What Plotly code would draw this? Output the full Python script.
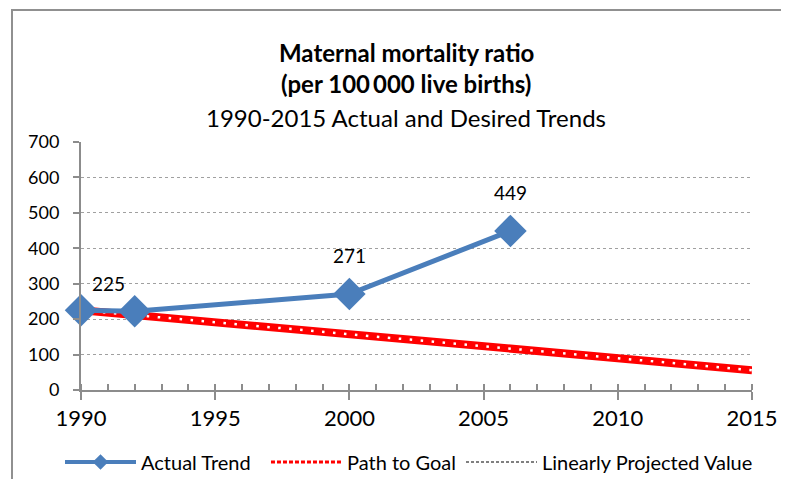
import plotly.graph_objects as go

# Data
actual_years = [1990, 1992, 2000, 2006]
actual_values = [225, 222, 271, 449]
label_years = [1990, 2000, 2006]
label_values = [225, 271, 449]
goal_years = [1990, 2015]
goal_values = [225, 56]
x_ticks = [1990, 1995, 2000, 2005, 2010, 2015]
y_ticks = [0, 100, 200, 300, 400, 500, 600, 700]
legend_names = ["Actual Trend", "Path to Goal", "Linearly Projected Value"]

FONT = "Lato"
BLUE = "#4A7EBB"
RED = "#FF0000"
GRAY = "#8C8C8C"

# page offset (body margin) compensation
OX, OY = 8, 8
W, H = 789 - OX, 479 - OY
L, R, T, B = 81 - OX, 789 - 752, 142 - OY, 479 - 390
pw, ph = W - L - R, H - T - B


def px_x(x):
    return (x - OX - L) / pw


def px_y(y):
    return (H - B - (y - OY)) / ph


fig = go.Figure()

# Path to goal: thick red band with white dots
fig.add_trace(go.Scatter(x=goal_years, y=goal_values, mode="lines",
                         line=dict(color=RED, width=8), showlegend=False,
                         hoverinfo="skip"))
fig.add_trace(go.Scatter(x=goal_years, y=goal_values, mode="lines",
                         line=dict(color="white", width=2.5, dash="2.5px,8.5px"),
                         showlegend=False, hoverinfo="skip"))

# Actual trend
fig.add_trace(go.Scatter(x=actual_years, y=actual_values, mode="lines+markers",
                         line=dict(color=BLUE, width=5),
                         marker=dict(symbol="diamond", size=25, color=BLUE),
                         cliponaxis=False, showlegend=False))

# Legend-only entries
fig.add_trace(go.Scatter(x=[None], y=[None], mode="lines+markers",
                         name=legend_names[0] + "\u00a0\u00a0",
                         line=dict(color=BLUE, width=4),
                         marker=dict(symbol="diamond", size=12, color=BLUE)))
fig.add_trace(go.Scatter(x=[None], y=[None], mode="lines", name=legend_names[1],
                         line=dict(color=RED, width=3, dash="4px,2px")))
fig.add_trace(go.Scatter(x=[None], y=[None], mode="lines", name=legend_names[2],
                         line=dict(color="black", width=1, dash="3px,2px")))

annotations = []
for yr, v in zip(label_years, label_values):
    xs = 27 if yr == 1990 else 0
    annotations.append(dict(x=yr, y=v, xref="x", yref="y", text=str(v), showarrow=False,
                            xshift=xs, yshift=38 if yr != 1990 else 27,
                            font=dict(family=FONT, size=19, color="black")))

title_lines = [
    ("<b>Maternal mortality ratio</b>", 52),
    ("<b>(per 100\u2009000 live births)</b>", 83),
    ("1990-2015 Actual and Desired Trends", 117),
]
for txt, ypx in title_lines:
    annotations.append(dict(x=px_x(406), y=px_y(ypx), xref="paper", yref="paper",
                            text=txt, showarrow=False, xanchor="center", yanchor="middle",
                            font=dict(family=FONT, size=24, color="black")))

fig.update_layout(
    width=W, height=H,
    margin=dict(l=L, r=R, t=T, b=B, autoexpand=False),
    paper_bgcolor="white", plot_bgcolor="white",
    font=dict(family=FONT, color="black"),
    annotations=annotations,
    showlegend=True,
    legend=dict(orientation="h", x=px_x(60), xanchor="left",
                y=px_y(462), yanchor="middle",
                font=dict(family=FONT, size=20), itemwidth=71,
                tracegroupgap=0, bgcolor="rgba(0,0,0,0)"),
    shapes=[dict(type="rect", xref="paper", yref="paper",
                 x0=px_x(12), x1=px_x(830),
                 y0=px_y(530), y1=px_y(10),
                 line=dict(color="#909090", width=2), layer="below")],
    xaxis=dict(range=[1990, 2015], tickvals=x_ticks, ticktext=[str(t) for t in x_ticks],
               showgrid=False, zeroline=False, showline=True, linecolor=GRAY, linewidth=2,
               ticks="outside", ticklen=8, tickwidth=2, tickcolor=GRAY,
               tickfont=dict(family=FONT, size=22),
               minor=dict(dtick=1, tick0=1990, ticks="inside", ticklen=6, tickwidth=2,
                          tickcolor=GRAY)),
    xaxis2=dict(overlaying="x", matches="x", range=[1990, 2015], tickvals=x_ticks,
                showticklabels=False, showgrid=False, zeroline=False, showline=False,
                ticks="inside", ticklen=6, tickwidth=2, tickcolor=GRAY, side="bottom",
                anchor="y"),
    yaxis=dict(range=[0, 700], tickvals=y_ticks,
               showgrid=True, gridcolor="#A0A0A0", griddash="dot", gridwidth=1,
               zeroline=False, showline=True, linecolor=GRAY, linewidth=2,
               ticks="outside", ticklen=6, tickwidth=2, tickcolor=GRAY,
               ticklabelstandoff=10,
               tickfont=dict(family=FONT, size=18)),
)

# invisible helper trace so the overlay axis is drawn
fig.add_trace(go.Scatter(x=[None], y=[None], xaxis="x2", yaxis="y", showlegend=False,
                         hoverinfo="skip"))

fig.write_html("out.html")
